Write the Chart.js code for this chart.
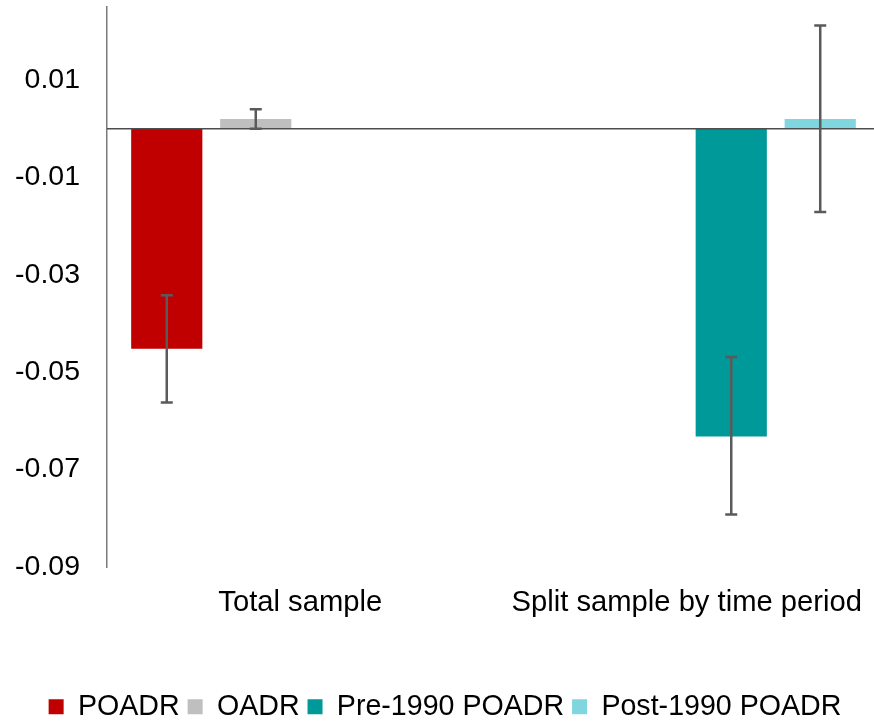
<!DOCTYPE html>
<html>
<head>
<meta charset="utf-8">
<script src="https://cdn.jsdelivr.net/npm/chart.js@4/dist/chart.umd.min.js"></script>
<style>
  html, body { margin: 0; padding: 0; background: #ffffff; overflow: hidden; }
  #wrap { width: 874px; height: 722px; overflow: hidden; }
  #chart { display: block; }
</style>
</head>
<body>
<div id="wrap"><canvas id="chart" width="880" height="722"></canvas></div>
<script>
// Categories and tick values
const categories = ['Total sample', 'Split sample by time period'];
const yTickValues = [-0.09, -0.07, -0.05, -0.03, -0.01, 0.01];

// Point estimates per series (null where the series is not shown)
const poadr    = [-0.0452, null];
const oadr     = [0.0020, null];
const pre1990  = [null, -0.0632];
const post1990 = [null, 0.0020];

// Confidence interval bounds per series
const poadrLow     = [-0.0562, null];
const poadrHigh    = [-0.0342, null];
const oadrLow      = [0.0000, null];
const oadrHigh     = [0.0040, null];
const pre1990Low   = [null, -0.0792];
const pre1990High  = [null, -0.0469];
const post1990Low  = [null, -0.0171];
const post1990High = [null, 0.0212];

const FONT = "'Liberation Sans', Arial, sans-serif";

// Horizontal reference line at zero
const zeroLine = {
  id: 'zeroLine',
  afterDatasetsDraw(chart) {
    const { ctx, chartArea, scales: { y } } = chart;
    const py = y.getPixelForValue(0);
    ctx.save();
    ctx.strokeStyle = '#4d4d4d';
    ctx.lineWidth = 1.5;
    ctx.beginPath();
    ctx.moveTo(chartArea.left, py);
    ctx.lineTo(chartArea.right, py);
    ctx.stroke();
    ctx.restore();
  }
};

// Whiskers for each bar from its low/high bounds
const errorBars = {
  id: 'errorBars',
  afterDatasetsDraw(chart) {
    const { ctx, scales: { y } } = chart;
    ctx.save();
    ctx.strokeStyle = '#5a5a5a';
    ctx.lineWidth = 2.5;
    chart.data.datasets.forEach((ds, di) => {
      const meta = chart.getDatasetMeta(di);
      ds.data.forEach((v, i) => {
        if (v === null) return;
        const bar = meta.data[i];
        const x = bar.x;
        const yLo = y.getPixelForValue(ds.errLow[i]);
        const yHi = y.getPixelForValue(ds.errHigh[i]);
        const cap = 6;
        ctx.beginPath();
        ctx.moveTo(x, yLo); ctx.lineTo(x, yHi);
        ctx.moveTo(x - cap, yLo); ctx.lineTo(x + cap, yLo);
        ctx.moveTo(x - cap, yHi); ctx.lineTo(x + cap, yHi);
        ctx.stroke();
      });
    });
    ctx.restore();
  }
};

new Chart(document.getElementById('chart'), {
  type: 'bar',
  data: {
    labels: categories,
    datasets: [
      { label: 'POADR', data: poadr, errLow: poadrLow, errHigh: poadrHigh, backgroundColor: '#c00000' },
      { label: 'OADR', data: oadr, errLow: oadrLow, errHigh: oadrHigh, backgroundColor: '#bfbfbf' },
      { label: 'Pre-1990 POADR', data: pre1990, errLow: pre1990Low, errHigh: pre1990High, backgroundColor: '#009999' },
      { label: 'Post-1990 POADR', data: post1990, errLow: post1990Low, errHigh: post1990High, backgroundColor: '#7fd6df' }
    ]
  },
  options: {
    responsive: false,
    animation: false,
    devicePixelRatio: 1,
    layout: { padding: { top: 7, left: 10, right: 0, bottom: -9 } },
    datasets: { bar: { barPercentage: 0.8, categoryPercentage: 0.921, borderWidth: 0 } },
    plugins: {
      tooltip: { enabled: false },
      legend: {
        position: 'bottom',
        labels: {
          font: { family: FONT, size: 28.6 },
          color: '#000000',
          boxWidth: 15,
          boxHeight: 15,
          padding: 8
        }
      }
    },
    scales: {
      x: {
        grid: { display: false, drawTicks: false },
        border: { display: false },
        ticks: { font: { family: FONT, size: 29.2 }, color: '#000000', padding: 18, maxRotation: 0, autoSkip: false },
        afterFit(s) { s.height = 117.4; s.paddingLeft = 0; s.paddingRight = 0; }
      },
      y: {
        min: -0.09,
        max: 0.025,
        grid: { display: false, drawTicks: false },
        border: { display: true, color: '#7a7a7a', width: 1.5 },
        afterBuildTicks(s) { s.ticks = yTickValues.map(v => ({ value: v })); },
        ticks: {
          font: { family: FONT, size: 28.5 },
          color: '#000000',
          padding: 27,
          callback: v => Number(v).toFixed(2)
        },
        afterFit(s) { s.width = 97; s.paddingTop = 0; s.paddingBottom = 0; }
      }
    }
  },
  plugins: [zeroLine, errorBars]
});
</script>
</body>
</html>
